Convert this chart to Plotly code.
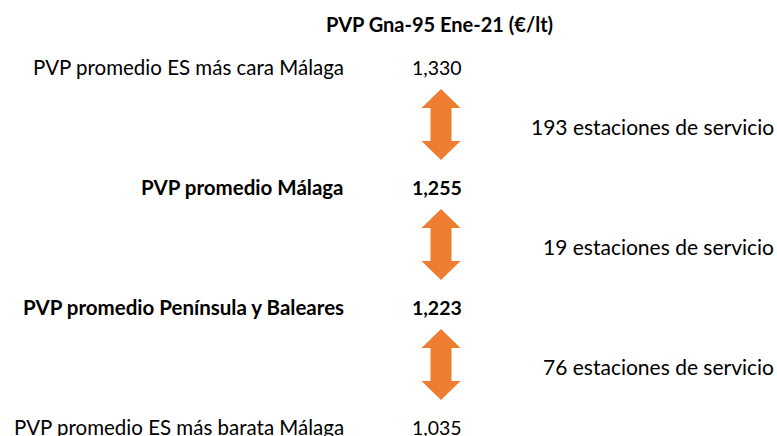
import plotly.graph_objects as go

title = "PVP Gna-95 Ene-21 (€/lt)"
labels = ["PVP promedio ES más cara Málaga", "PVP promedio Málaga",
          "PVP promedio Península y Baleares", "PVP promedio ES más barata Málaga"]
values = ["1,330", "1,255", "1,223", "1,035"]
bold = [False, True, True, False]
stations = ["193 estaciones de servicio", "19 estaciones de servicio", "76 estaciones de servicio"]

FONT = "Lato"
FS = 20.5
ORANGE = "#ED7D31"

W, H = 777, 436
row_y0, row_step = 67, 120
label_x, value_x, arrow_x, station_x = 346, 464, 441, 776

fig = go.Figure()
ann = []
ann.append(dict(x=439, y=24, text="<b>%s</b>" % title, xanchor="center", yanchor="middle",
                showarrow=False, font=dict(family=FONT, size=20, color="black")))
for i, (lab, val, b) in enumerate(zip(labels, values, bold)):
    y = row_y0 + i * row_step
    t_lab = "<b>%s</b>" % lab if b else lab
    t_val = "<b>%s</b>" % val if b else val
    ann.append(dict(x=label_x, y=y, text=t_lab, xanchor="right", yanchor="middle", showarrow=False,
                    font=dict(family=FONT, size=FS, color="black")))
    ann.append(dict(x=value_x, y=y, text=t_val, xanchor="right", yanchor="middle", showarrow=False,
                    font=dict(family=FONT, size=19.5, color="black")))

shapes = []
hw, sw, hh = 19.5, 10.5, 19
for i, s in enumerate(stations):
    ya = row_y0 + i * row_step
    yb = row_y0 + (i + 1) * row_step
    top, bot = ya + 22, yb - 27
    mid = (top + bot) / 2
    ann.append(dict(x=station_x, y=mid + 2, text=s, xanchor="right", yanchor="middle", showarrow=False,
                    font=dict(family=FONT, size=21, color="black")))
    cx = arrow_x
    path = (f"M {cx},{top} L {cx+hw},{top+hh} L {cx+sw},{top+hh} L {cx+sw},{bot-hh} "
            f"L {cx+hw},{bot-hh} L {cx},{bot} L {cx-hw},{bot-hh} L {cx-sw},{bot-hh} "
            f"L {cx-sw},{top+hh} L {cx-hw},{top+hh} Z")
    shapes.append(dict(type="path", path=path, xref="x", yref="y", fillcolor=ORANGE,
                       line=dict(width=0)))

fig.update_layout(width=W, height=H, margin=dict(l=0, r=0, t=0, b=0),
                  paper_bgcolor="white", plot_bgcolor="white",
                  xaxis=dict(range=[0, W], visible=False, fixedrange=True),
                  yaxis=dict(range=[H, 0], visible=False, fixedrange=True),
                  annotations=ann, shapes=shapes, showlegend=False)
fig.write_html("out.html", config={"displayModeBar": False},
               post_script="document.body.style.margin='0';document.body.style.overflow='hidden';")
